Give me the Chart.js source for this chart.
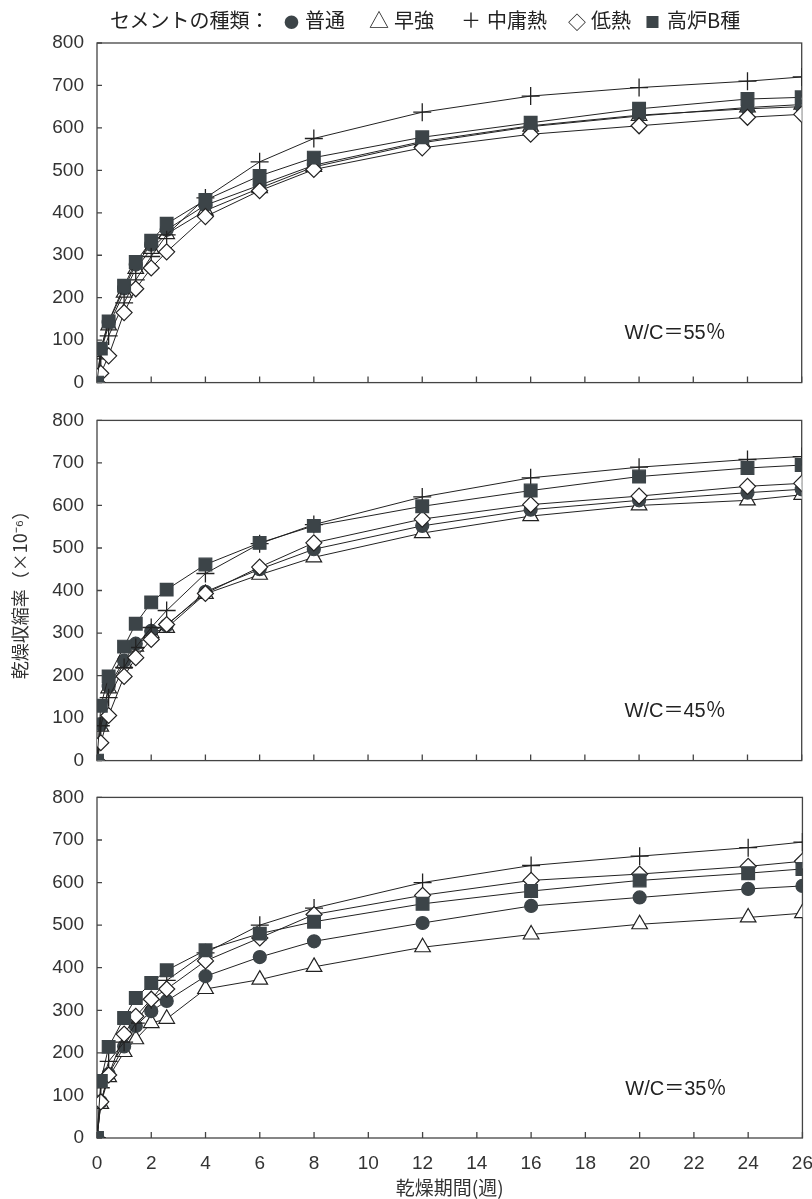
<!DOCTYPE html>
<html>
<head>
<meta charset="utf-8">
<script src="https://cdn.jsdelivr.net/npm/chart.js@4.4.0/dist/chart.umd.min.js"></script>
<style>
body { margin: 0; background: #fff; width: 812px; height: 1199px; position: relative; overflow: hidden; }
.panel { position: absolute; left: 0; width: 812px; }
#legend { position: absolute; top: 0; left: 0; width: 812px; height: 40px; font-family: "Noto Sans CJK JP", sans-serif; font-size: 20px; color: #222; z-index: 2; }
#legend span { position: absolute; top: 8px; white-space: nowrap; line-height: 24px; }
.dark { color: #3c4448; }
</style>
</head>
<body>
<div id="legend">
  <span style="left:110px">セメントの種類：</span>
  <span class="dark" style="left:284px;font-size:15px;top:10px">●</span><span style="left:305px">普通</span>
  <span style="left:369px;font-size:20px">△</span><span style="left:394px">早強</span>
  <span style="left:461px;font-size:20px">＋</span><span style="left:487px">中庸熱</span>
  <span style="left:568px;font-size:18px;top:9px">◇</span><span style="left:591px">低熱</span>
  <span class="dark" style="left:645px;font-size:15px;top:10px">■</span><span style="left:667px">高炉B種</span>
</div>
<div class="panel" style="top:0;height:407px"><canvas id="c1"></canvas></div>
<div class="panel" style="top:396px;height:389px"><canvas id="c2"></canvas></div>
<div class="panel" style="top:773px;height:426px;width:827px"><canvas id="c3"></canvas></div>
<script>
const weeks = [0, 0.14, 0.43, 1, 1.43, 2, 2.57, 4, 6, 8, 12, 16, 20, 24, 26];
const xTicks = [0, 2, 4, 6, 8, 10, 12, 14, 16, 18, 20, 22, 24, 26];
const yTicks = [0, 100, 200, 300, 400, 500, 600, 700, 800];

// W/C = 55%
const futsu55 = [0, 78, 142, 222, 278, 325, 360, 418, 465, 512, 568, 605, 630, 645, 650];
const soukyou55 = [0, 72, 135, 212, 268, 315, 350, 405, 458, 508, 565, 603, 628, 648, 655];
const chuyou55 = [0, 56, 110, 188, 242, 297, 348, 435, 520, 575, 637, 675, 695, 710, 720];
const teinetsu55 = [0, 22, 63, 165, 221, 270, 308, 391, 452, 502, 553, 585, 605, 625, 632];
const kouro55 = [0, 80, 144, 228, 284, 334, 374, 430, 487, 530, 578, 612, 645, 668, 672];

// W/C = 45%
const futsu45 = [0, 85, 175, 235, 275, 305, 318, 397, 450, 497, 552, 590, 612, 630, 638];
const soukyou45 = [0, 80, 170, 228, 268, 300, 312, 392, 437, 478, 535, 575, 600, 612, 625];
const chuyou45 = [0, 82, 148, 219, 266, 313, 353, 440, 510, 555, 620, 665, 690, 708, 715];
const teinetsu45 = [0, 42, 106, 198, 242, 285, 320, 393, 455, 512, 568, 602, 622, 645, 652];
const kouro45 = [0, 129, 198, 268, 322, 372, 402, 461, 512, 552, 598, 635, 668, 688, 695];

// W/C = 35%
const futsu35 = [0, 85, 150, 215, 263, 298, 322, 380, 425, 462, 505, 545, 565, 585, 592];
const soukyou35 = [0, 80, 143, 202, 232, 270, 280, 350, 372, 402, 448, 478, 502, 518, 528];
const chuyou35 = [0, 118, 180, 225, 270, 325, 370, 435, 500, 540, 600, 640, 662, 682, 695];
const teinetsu35 = [0, 85, 148, 244, 286, 326, 350, 416, 470, 525, 570, 605, 620, 638, 650];
const kouro35 = [0, 134, 214, 282, 329, 364, 394, 441, 480, 508, 550, 580, 605, 622, 632];

const dark = '#3c4448';
const lineCol = '#222';
const numFont = "'Liberation Sans', Arial, sans-serif";
const jpFont = "'Noto Sans CJK JP', sans-serif";

function pts(arr) {
    return arr.map((v, i) => ({ x: weeks[i], y: v }));
}

function series(label, arr, style, fill, r, order) {
    return {
        label: label,
        data: pts(arr),
        borderColor: lineCol,
        borderWidth: 1,
        pointStyle: style,
        pointRadius: r,
        pointBackgroundColor: fill,
        pointBorderColor: style === 'cross' ? '#222' : (fill === '#fff' ? '#222' : dark),
        pointBorderWidth: style === 'cross' ? 1.3 : 1.2,
        tension: 0,
        order: order
    };
}

// box around the plot, inward tick marks and the W/C note
const frame = {
    id: 'frame',
    beforeDatasetsDraw(chart, args, opts) {
        const { ctx, chartArea: a, scales: { x, y } } = chart;
        ctx.save();
        ctx.strokeStyle = '#444';
        ctx.lineWidth = 1.3;
        ctx.strokeRect(a.left, a.top, a.right - a.left, a.bottom - a.top);
        ctx.beginPath();
        xTicks.forEach(v => {
            const px = x.getPixelForValue(v);
            ctx.moveTo(px, a.bottom);
            ctx.lineTo(px, a.bottom - 6);
        });
        yTicks.forEach(v => {
            const py = y.getPixelForValue(v);
            ctx.moveTo(a.left, py);
            ctx.lineTo(a.left + 5, py);
        });
        ctx.stroke();
        ctx.fillStyle = '#222';
        ctx.font = "20px 'Liberation Sans', 'Noto Sans CJK JP', sans-serif";
        ctx.textAlign = 'right';
        ctx.textBaseline = 'middle';
        ctx.fillText(opts.label, a.right - 76, a.bottom - 49);
        ctx.restore();
    }
};

function makeChart(id, data, wc, padTop, xHeight, last, yTitle) {
    new Chart(document.getElementById(id), {
        type: 'line',
        data: {
            datasets: [
                series('普通', data[0], 'circle', dark, 6.5, 3),
                series('早強', data[1], 'triangle', '#fff', 9, 4),
                series('中庸熱', data[2], 'cross', '#fff', 9, 2),
                series('低熱', data[3], 'rectRot', '#fff', 8, 1),
                series('高炉B種', data[4], 'rect', dark, 9, 0)
            ]
        },
        options: {
            responsive: true,
            maintainAspectRatio: false,
            animation: false,
            layout: { padding: { top: padTop, right: 9, left: 0, bottom: 0 } },
            plugins: {
                legend: { display: false },
                tooltip: { enabled: false },
                frame: { label: wc }
            },
            scales: {
                x: {
                    type: 'linear',
                    min: 0,
                    max: 26,
                    grid: { display: false, drawTicks: false },
                    border: { display: false },
                    ticks: {
                        display: last,
                        stepSize: 2,
                        padding: 14,
                        color: '#333',
                        font: { family: numFont, size: 19 }
                    },
                    title: {
                        display: last,
                        text: '乾燥期間(週)',
                        color: '#333',
                        padding: { top: 0, bottom: 0 },
                        font: { family: jpFont, size: 19 }
                    },
                    afterFit(scale) { scale.height = xHeight; }
                },
                y: {
                    min: 0,
                    max: 800,
                    grid: { display: false, drawTicks: false },
                    border: { display: false },
                    ticks: {
                        stepSize: 100,
                        padding: 13,
                        color: '#333',
                        font: { family: numFont, size: 19 }
                    },
                    title: {
                        display: yTitle,
                        text: '乾燥収縮率（×10⁻⁶）',
                        color: '#333',
                        padding: { top: 9, bottom: 0 },
                        font: { family: jpFont, size: 18 }
                    },
                    afterFit(scale) { scale.width = 97; }
                }
            }
        },
        plugins: [frame]
    });
}

makeChart('c1', [futsu55, soukyou55, chuyou55, teinetsu55, kouro55], 'W/C＝55％', 43, 17, false, false);
makeChart('c2', [futsu45, soukyou45, chuyou45, teinetsu45, kouro45], 'W/C＝45％', 20, 20, false, true);
makeChart('c3', [futsu35, soukyou35, chuyou35, teinetsu35, kouro35], 'W/C＝35％', 17, 61, true, false);
</script>
</body>
</html>
